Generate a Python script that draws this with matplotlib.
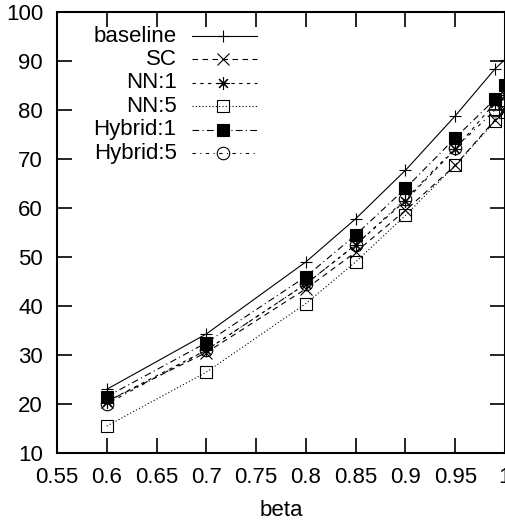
import matplotlib.pyplot as plt
import numpy as np

plt.rcParams['font.family'] = ['Liberation Sans', 'DejaVu Sans']
plt.rcParams['font.size'] = 16

# data
beta = [0.6, 0.7, 0.8, 0.85, 0.9, 0.95, 0.99, 1.0]
baseline = [23.0, 34.3, 49.0, 57.8, 67.7, 78.8, 88.4, 90.3]
sc = [20.5, 30.5, 43.5, 51.0, 59.5, 68.7, 78.0, 80.0]
nn1 = [20.5, 31.0, 44.5, 52.5, 61.5, 72.0, 81.5, 83.0]
nn5 = [15.5, 26.5, 40.5, 49.0, 58.5, 68.7, 77.7, 79.5]
hybrid1 = [21.5, 32.5, 46.0, 54.5, 64.0, 74.3, 82.2, 85.0]
hybrid5 = [20.0, 31.0, 44.5, 52.5, 61.8, 72.2, 80.0, 81.0]

labels = ['baseline', 'SC', 'NN:1', 'NN:5', 'Hybrid:1', 'Hybrid:5']
series = [baseline, sc, nn1, nn5, hybrid1, hybrid5]
styles = [
    dict(ls='-', marker='+', mfc='none'),
    dict(ls=(0, (5, 4)), marker='x', mfc='none'),
    dict(ls=(0, (3, 4)), marker=(8, 2, 0), mfc='none'),
    dict(ls=(0, (1, 2)), marker='s', mfc='none'),
    dict(ls=(0, (6, 3, 1, 3)), marker='s', mfc='black'),
    dict(ls=(0, (3, 4, 1, 4)), marker='o', mfc='none'),
]

fig = plt.figure(figsize=(5.06, 5.25), dpi=100)
ax = fig.add_axes([57 / 506, 72 / 525, 448 / 506, 441 / 525])

for vals, st in zip(series, styles):
    ax.plot(beta, vals, color='black', lw=0.8, ms=9, mew=0.8, mec='black',
            clip_on=False, **st)

# gnuplot style key: right aligned text, sample line to the right
for i, (lab, st) in enumerate(zip(labels, styles)):
    yk = (453 - (36 + 23.4 * i)) / 441
    ax.text(0.267, yk, lab, ha='right', va='center', transform=ax.transAxes)
    ax.plot([0.301, 0.446], [yk, yk], color='black', lw=0.8, ls=st['ls'],
            transform=ax.transAxes, clip_on=False)
    ax.plot([0.371], [yk], color='black', lw=0, ms=9, mew=0.8, mec='black',
            marker=st['marker'], mfc=st['mfc'], transform=ax.transAxes,
            clip_on=False)

ax.set_xlim(0.55, 1.0)
ax.set_ylim(10, 100)
ax.set_xticks(np.arange(0.55, 1.001, 0.05))
ax.set_xticklabels(['0.55', '0.6', '0.65', '0.7', '0.75', '0.8', '0.85',
                    '0.9', '0.95', '1'])
ax.set_yticks(range(10, 101, 10))
ax.tick_params(direction='in', length=11, width=1.2, top=True, right=True, pad=10)
for sp in ax.spines.values():
    sp.set_linewidth(1.5)
ax.set_xlabel('beta', labelpad=9)

fig.savefig('out.png', dpi=100)
